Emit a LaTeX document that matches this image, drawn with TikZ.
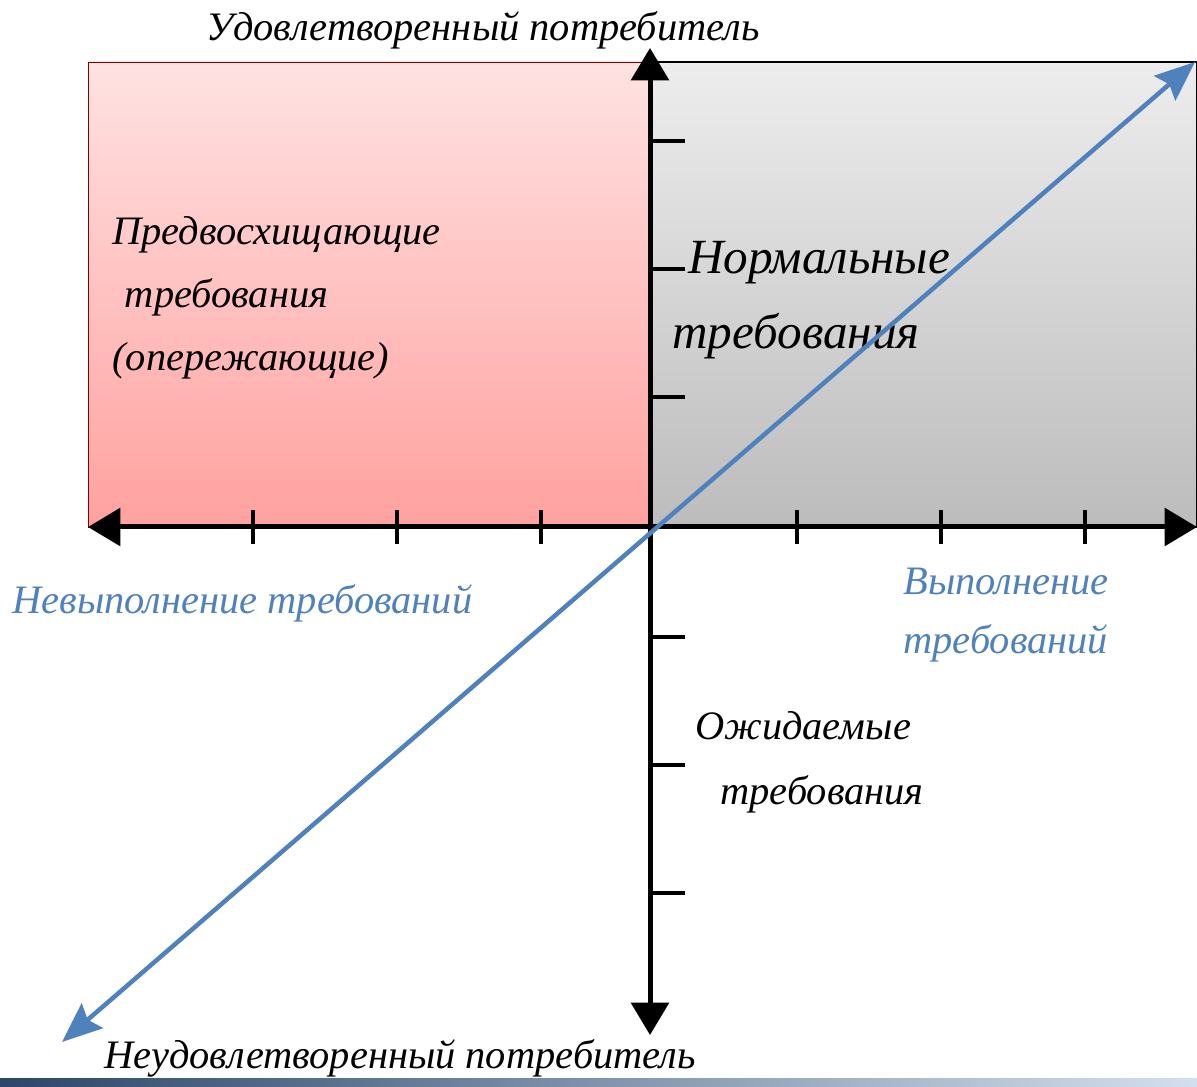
\documentclass[tikz,border=0pt]{standalone}
\usepackage{fontspec}
\setmainfont{Liberation Serif}
\usetikzlibrary{arrows.meta}

\definecolor{axisblue}{HTML}{4F81BD}
\definecolor{pinktop}{HTML}{FFE2E2}
\definecolor{pinkbot}{HTML}{FFA19F}
\definecolor{graytop}{HTML}{EDEDED}
\definecolor{graybot}{HTML}{BCBCBC}

\tikzset{
    lbl/.style={font=\fontsize{23}{36}\selectfont\itshape, inner sep=0pt},
    bluelbl/.style={lbl, text=axisblue},
    axisline/.style={line width=0.1cm, {Triangle[length=0.65cm,width=0.75cm]}-{Triangle[length=0.65cm,width=0.75cm]}},
    tickline/.style={line width=0.09cm},
    diagline/.style={line width=0.09cm, draw=axisblue, {Stealth[length=0.8cm,width=0.65cm,inset=0.12cm]}-{Stealth[length=0.8cm,width=0.65cm,inset=0.12cm]}}
}

\begin{document}
\begin{tikzpicture}[x=0.02cm, y=-0.02cm]
    \useasboundingbox (0,0) rectangle (1197,1087);
    \fill[white] (0,0) rectangle (1197,1087);

    % Quadrants
    \shade[top color=pinktop, bottom color=pinkbot, draw=red!50!black, line width=0.3pt] (88,62) rectangle (650,527);
    \shade[top color=graytop, bottom color=graybot, draw=black, line width=0.6pt] (650,62) rectangle (1197,527);

    % Footer strip
    \shade[left color=black!45!axisblue, right color=axisblue!25] (0,1078) rectangle (1197,1087);

    % Axes
    \coordinate (O) at (650,527);
    \coordinate (L) at (88,527);
    \coordinate (R) at (1197,527);
    \coordinate (T) at (650,48);
    \coordinate (B) at (650,1035);
    \draw[axisline] (L) -- (R);
    \draw[axisline] (T) -- (B);

    % Ticks
    \foreach \x in {253,397,541,797,941,1085}
    {\draw[tickline] (\x,510) -- ++(0,34);}
    \foreach \y in {141,269,397,637,765,893}
    {\draw[tickline] (650,\y) -- ++(35,0);}

    % Labels
    \node[lbl] (sat) at (483,30) {Удовлетворенный потребитель};
    \node[lbl] (unsat) at (400,1058) {Неудовлетворенный потребитель};
    \node[lbl, anchor=west, align=left] (anticip) at (112,298)
        {Предвосхищающие\\\hspace*{0.25cm}требования\\(опережающие)};
    \node[lbl, anchor=west, align=left, font=\fontsize{28}{43}\selectfont\itshape] (normal) at (672,300)
        {\hspace*{0.32cm}Нормальные\\требования};
    \node[lbl, anchor=west, align=left, font=\fontsize{23}{37}\selectfont\itshape] (expect) at (695,762)
        {Ожидаемые\\\hspace*{0.5cm}требования};
    \node[bluelbl, anchor=west] (nonful) at (12,603) {Невыполнение требований};
    \node[bluelbl, anchor=west, align=left, font=\fontsize{23}{34}\selectfont\itshape] (ful) at (903,615)
        {Выполнение\\требований};

    % Diagonal
    \coordinate (NE) at (1195,62);
    \coordinate (SW) at (62,1042);
    \draw[diagline] (SW) -- (NE);
\end{tikzpicture}
\end{document}
